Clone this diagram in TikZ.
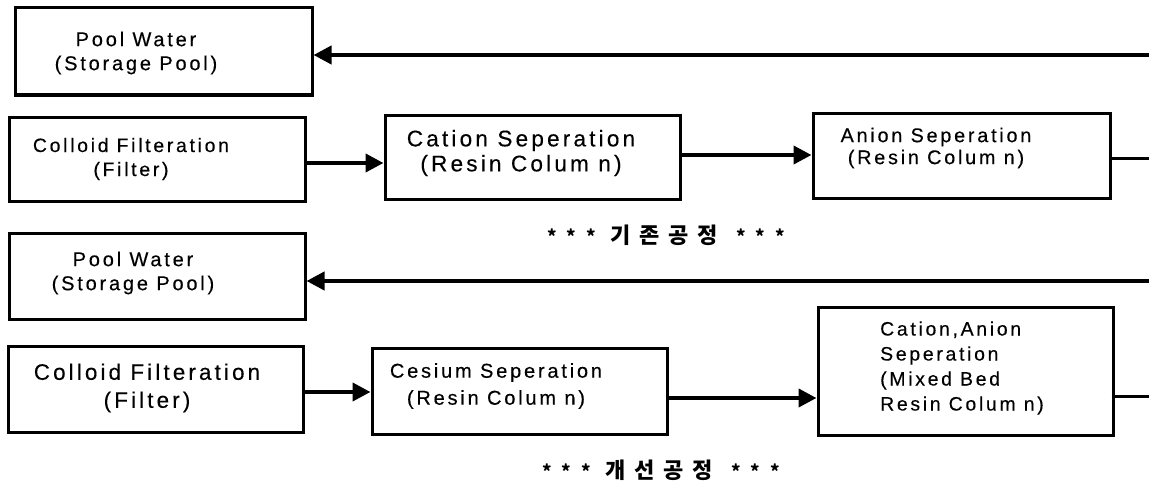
\documentclass[tikz,border=0pt]{standalone}
\usepackage{fontspec}
\setmainfont{Liberation Sans}[LetterSpace=14,FakeBold=0.3]
\newfontfamily\kr{Noto Sans CJK KR}[LetterSpace=40]
\newfontfamily\krstar{Noto Sans CJK KR}[LetterSpace=55]
\usetikzlibrary{arrows.meta,calc}

\begin{document}
\begin{tikzpicture}[x=1pt,y=-1pt,
  box/.style={draw, line width=3pt, inner sep=0pt},
  txt/.style={inner sep=0pt, align=center},
  flow/.style={line width=4pt, -{Triangle[length=18pt,width=18pt]}},
  tail/.style={line width=3pt},
  caption/.style={inner sep=0pt}]
\newcommand{\capstars}{{\krstar\bfseries\fontsize{18}{20}\selectfont ***}}
\newcommand{\capline}[1]{\capstars\hspace{15pt}{\kr\bfseries\fontsize{22}{24}\selectfont #1}\hspace{18pt}\capstars}
\useasboundingbox (0,0) rectangle (1149,487);

% ---- existing process ----
\node[box, minimum width=297pt, minimum height=87pt] (pool1) at (163.5,51.5) {};
\node[box, minimum width=296pt, minimum height=84pt] (col1)  at (157,159) {};
\node[box, minimum width=295pt, minimum height=84pt] (cat1)  at (532.5,157) {};
\node[box, minimum width=297pt, minimum height=85pt] (ani1)  at (961.5,155.5) {};

\node[txt, font=\fontsize{20}{24}\selectfont] (t1) at (136,53) {Pool Water\\(Storage Pool)};
\node[txt, font=\fontsize{19.4}{24}\selectfont] (t2) at (131,159) {Colloid Filteration\\(Filter)};
\node[txt, font=\fontsize{22.6}{25}\selectfont] (t3) at (521,153) {Cation Seperation\\(Resin Colum n)};
\node[txt, font=\fontsize{19.8}{22}\selectfont] (t4) at (936,148) {Anion Seperation\\(Resin Colum n)};

\coordinate (in1) at (1149,55);
\coordinate (out1) at (1149,158);
\draw[flow] (in1) -- (in1 -| pool1.east);
\path (col1.east) ++(0,4) coordinate (a2);
\draw[flow] (a2) -- (a2 -| cat1.west);
\path (cat1.east) ++(0,-2) coordinate (a3);
\draw[flow] (a3) -- (a3 -| ani1.west);
\draw[tail] (out1 -| ani1.east) ++(-3,0) -- (out1);

\node[caption] (cap1) at (666,235) {\capline{기존공정}};

% ---- improved process ----
\node[box, minimum width=296pt, minimum height=86pt] (pool2) at (157,276) {};
\node[box, minimum width=295pt, minimum height=86pt] (col2)  at (155.5,389) {};
\node[box, minimum width=295pt, minimum height=86pt] (ces)   at (519.5,391) {};
\node[box, minimum width=295pt, minimum height=128pt] (mix)  at (965.5,371) {};

\node[txt, font=\fontsize{20}{24}\selectfont] (t5) at (133,273) {Pool Water\\(Storage Pool)};
\node[txt, font=\fontsize{22.4}{28}\selectfont] (t6) at (147,388) {Colloid Filteration\\(Filter)};
\node[txt, font=\fontsize{20}{27}\selectfont] (t7) at (496,386) {Cesium Seperation\\(Resin Colum n)};
\node[txt, align=left, anchor=west, font=\fontsize{19.4}{25}\selectfont] (t8) at (880,368) {Cation,Anion\\Seperation\\(Mixed Bed\\Resin Colum n)};

\coordinate (in2) at (1149,281);
\coordinate (out2) at (1149,396);
\draw[flow] (in2) -- (in2 -| pool2.east);
\path (col2.east) ++(0,3) coordinate (a6);
\draw[flow] (a6) -- (a6 -| ces.west);
\path (ces.east) ++(0,7) coordinate (a7);
\draw[flow] (a7) -- (a7 -| mix.west);
\draw[tail] (out2 -| mix.east) ++(-3,0) -- (out2);

\node[caption] (cap2) at (661,470) {\capline{개선공정}};
\end{tikzpicture}
\end{document}
